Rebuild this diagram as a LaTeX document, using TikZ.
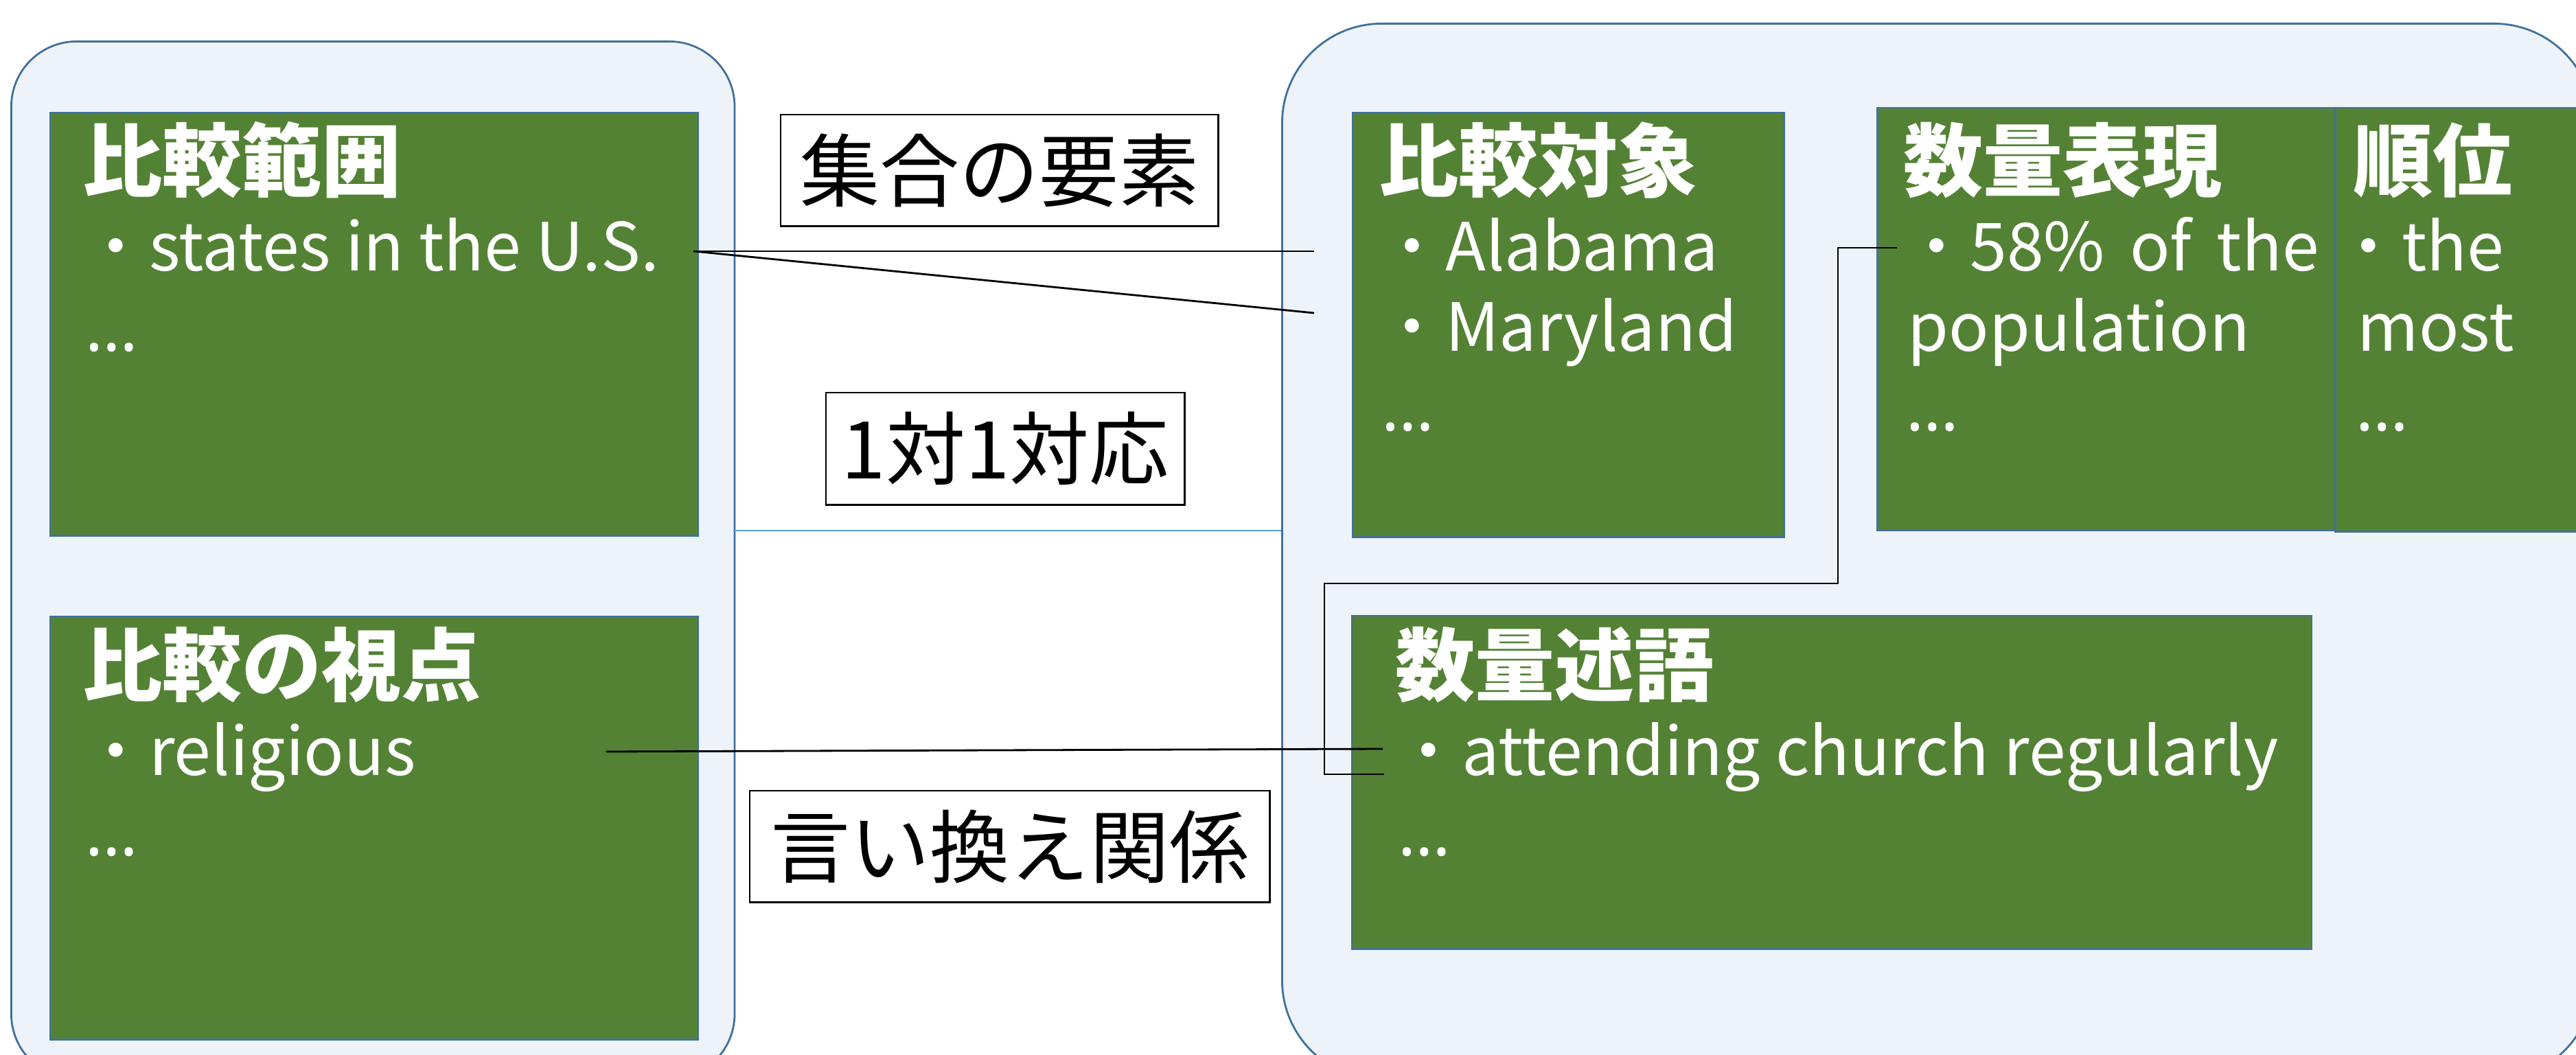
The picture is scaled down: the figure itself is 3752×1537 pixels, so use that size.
\documentclass[tikz,border=0pt]{standalone}
\usepackage{fontspec}
\setmainfont{Noto Sans CJK JP}
\newfontfamily\latinfont{Noto Sans}
\definecolor{gfill}{HTML}{548235}
\definecolor{gborder}{HTML}{41719C}
\definecolor{cfill}{HTML}{EEF3FA}
\definecolor{cborder}{HTML}{41719C}
\definecolor{sepblue}{HTML}{5B9BD5}
\newcommand\ttl{\fontsize{33}{40}\selectfont\bfseries}
\newcommand\bdy{\fontsize{27.5}{33}\selectfont}
\newcommand\lbl{\fontsize{33}{40}\selectfont}
\newcommand\myell{{\latinfont …}}
\begin{document}
\begin{tikzpicture}[x=0.01cm,y=-0.01cm,
  container/.style={draw=cborder,fill=cfill,line width=0.8pt,inner sep=0,anchor=north west},
  gbox/.style={draw=gborder,fill=gfill,line width=0.7pt,inner sep=0,anchor=north west},
  lbox/.style={draw=black,fill=white,line width=0.7pt,inner sep=0,anchor=north west,font=\lbl},
  ttext/.style={anchor=base west,inner sep=0,text=white,font=\ttl},
  btext/.style={anchor=base west,inner sep=0,text=white,font=\bdy},
  conn/.style={draw=black,line width=0.8pt}]
\useasboundingbox (0,0) rectangle (3752,1537);
\clip (0,0) rectangle (3752,1537);
% containers
\node[container,rounded corners=0.95cm,minimum width=10.53cm,minimum height=15.11cm] (L) at (15,59) {};
\node[container,rounded corners=1.45cm,minimum width=19.09cm,minimum height=15.38cm] (R) at (1866,33) {};
\coordinate (sa) at (1068,773);
\coordinate (sb) at (1866,773);
\draw[sepblue,line width=0.5pt] (sa) -- (sb);
% green boxes
\node[gbox,minimum width=9.43cm,minimum height=6.16cm] (b1) at (72,163) {};
\node[gbox,minimum width=9.43cm,minimum height=6.16cm] (b2) at (72,897) {};
\node[gbox,minimum width=6.28cm,minimum height=6.18cm] (b3) at (1969,163) {};
\node[gbox,minimum width=6.67cm,minimum height=6.15cm] (b4) at (2733,156) {};
\node[gbox,minimum width=3.90cm,minimum height=6.17cm] (b5) at (3400,156) {};
\node[gbox,minimum width=13.97cm,minimum height=4.85cm] (b6) at (1968,896) {};
% texts box1
\node[ttext] (t1) at (120,278) {比較範囲};
\node[btext] (t1a) at (120,395) {・states in the U.S.};
\node[btext] (t1b) at (124,512) {\myell};
% box2
\node[ttext] (t2) at (120,1012) {比較の視点};
\node[btext] (t2a) at (120,1129) {・religious};
\node[btext] (t2b) at (124,1246) {\myell};
% box3
\node[ttext] (t3) at (2008,278) {比較対象};
\node[btext] (t3a) at (2008,395) {・Alabama};
\node[btext] (t3b) at (2008,512) {・Maryland};
\node[btext] (t3c) at (2012,628) {\myell};
% box4
\node[ttext] (t4) at (2772,278) {数量表現};
\node[btext] (t4a) at (2772,395) {・58\%\hspace{0.365cm}of\hspace{0.365cm}the};
\node[btext] (t4b) at (2778,512) {population};
\node[btext] (t4c) at (2776,628) {\myell};
% box5
\node[ttext] (t5) at (3427,278) {順位};
\node[btext] (t5a) at (3401,395) {・the};
\node[btext] (t5b) at (3433,512) {most};
\node[btext] (t5c) at (3431,628) {\myell};
% box6
\node[ttext] (t6) at (2032,1012) {数量述語};
\node[btext] (t6a) at (2032,1129) {・attending church regularly};
\node[btext] (t6b) at (2036,1246) {\myell};
% labels
\node[lbox,minimum width=6.37cm,minimum height=1.62cm] (la) at (1136,166) {集合の要素};
\node[lbox,minimum width=5.22cm,minimum height=1.63cm] (lb) at (1202,571) {1対1対応};
\node[lbox,minimum width=7.57cm,minimum height=1.62cm] (lc) at (1091,1151) {言い換え関係};
% connectors
\coordinate (p1) at (1010,366);
\coordinate (q1) at (1914,366);
\coordinate (q2) at (1914,456);
\coordinate (p3) at (883,1095);
\coordinate (q3) at (2014,1091);
\coordinate (p4) at (2763,361);
\coordinate (q4) at (2016,1128);
\draw[conn] (p1) -- (q1);
\draw[conn] (p1) -- (q2);
\draw[conn] (p3) -- (q3);
\draw[conn] (p4) -- (2677,361) -- (2677,850) -- (1929,850) -- (1929,1128) -- (q4);
\end{tikzpicture}
\end{document}
